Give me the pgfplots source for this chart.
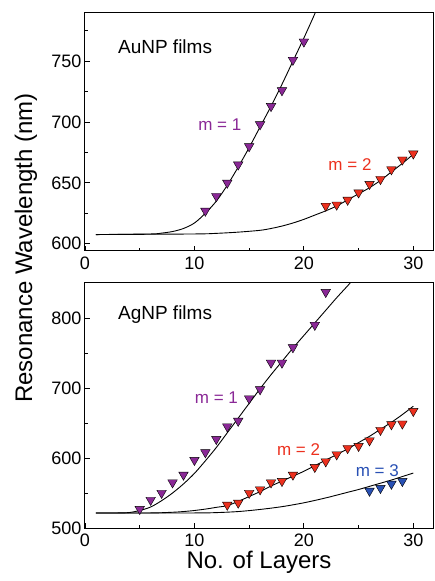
\documentclass[border=0pt]{standalone}
\usepackage{fontspec}
\setmainfont{Liberation Sans}
\usepackage{pgfplots}
\pgfplotsset{compat=1.18}

\definecolor{cpurple}{RGB}{138,40,150}
\definecolor{cred}{RGB}{236,48,30}
\definecolor{cblue}{RGB}{40,80,180}

\pgfplotsset{
  panel/.style={
    scale only axis, width=348pt,
    xmin=0, xmax=31.8,
    xtick={0,10,20,30}, minor xtick={5,15,25},
    xtick pos=left, ytick pos=left, tick align=inside,
    major tick length=5pt, minor tick length=3pt,
    tick style={black, line width=0.8pt},
    axis line style={line width=1pt},
    ticklabel style={font=\fontsize{18}{20}\selectfont},
    /pgf/number format/assume math mode=true,
    xticklabel style={yshift=-2pt},
  },
  fit/.style={black, line width=0.9pt, no marks, smooth},
  pts/.style={only marks, mark=triangle*, mark size=5.5pt,
    mark options={rotate=180, draw=none, fill=#1}},
}

\begin{document}
\begin{tikzpicture}
% bottom panel: AgNP
\begin{axis}[panel, at={(0,0)}, anchor=south west, height=245pt,
  ymin=500, ymax=850, ytick={500,600,700,800}, minor ytick={550,650,750},
  xlabel={No. of Layers}, xlabel style={font=\fontsize{24}{26}\selectfont, yshift=2pt}]
\addplot[fit] coordinates {(1,521.5) (3,521.5) (4,522) (5,525) (6,530) (7,539) (8,550) (9,563) (10,578) (11,596) (12,615) (13,636) (14,657) (15,678) (16,699) (17,719) (18,738) (19,757) (20,775) (21,793) (22,811) (23,829) (24,846) (24.5,855)};
\addplot[fit] coordinates {(1,521.5) (6,521.5) (8,522.5) (9,523.5) (10,525) (11,527) (12,529.5) (13,532) (14,538) (15,545) (16,552) (17,560) (18,567) (19,574) (20,581) (21,589) (22,597) (23,605) (24,613) (25,622) (26,631) (27,641) (28,651) (29,662) (30,674)};
\addplot[fit] coordinates {(1,521.5) (10,521.5) (12,522) (14,523.5) (16,526.5) (18,530.5) (20,536) (22,543) (24,551) (25,555) (26,559.5) (27,564) (28,568.5) (29,573.5) (30,578.5)};
\addplot[pts=cpurple] coordinates {(5,527) (6,540) (7,550) (8,565) (9,576) (10,597) (11,608) (12,627) (13,645) (14,653) (15,685) (16,698) (17,736) (18,736) (19,758) (21,790) (22,837)};
\addplot[pts=cred] coordinates {(13,533) (14,536) (15,550) (16,555) (17,565) (18,567) (19,576) (21,587) (22,595) (23,605) (24,614) (25,617) (26,625) (27,640) (28,648) (29,649) (30,667)};
\addplot[pts=cblue] coordinates {(26,553) (27,557) (28,563) (29,567)};
\node[anchor=west, font=\fontsize{19}{21}\selectfont] at (axis cs:2.7,805) {AgNP films};
\node[anchor=east, text=cpurple, font=\fontsize{17}{19}\selectfont] at (axis cs:14.3,686) {m = 1};
\node[anchor=east, text=cred, font=\fontsize{17}{19}\selectfont] at (axis cs:21.8,612) {m = 2};
\node[anchor=east, text=cblue, font=\fontsize{17}{19}\selectfont] at (axis cs:29.0,582) {m = 3};
\end{axis}
% top panel: AuNP
\begin{axis}[panel, at={(0,277pt)}, anchor=south west, height=238.5pt,
  ymin=594, ymax=790, ytick={600,650,700,750}, minor ytick={625,675,725,775}]
\addplot[fit] coordinates {(1,607.5) (6,608) (7,608.7) (8,610) (9,612.5) (10,617) (11,625) (12,635) (13,648) (14,663) (15,679) (16,696) (17,713) (18,731) (19,750) (20,769) (21,789) (21.3,796)};
\addplot[fit] coordinates {(1,607.5) (10,608) (12,608.5) (14,609.5) (16,611) (17,612.5) (18,614.5) (19,617) (20,620) (21,623.5) (22,627) (23,631) (24,636) (25,641) (26,646) (27,652) (28,659) (29,666) (30,673.5)};
\addplot[pts=cpurple] coordinates {(11,627) (12,639) (13,650) (14,665) (15,680) (16,698) (17,713) (18,726) (19,751) (20,766)};
\addplot[pts=cred] coordinates {(22,631) (23,632) (24,636) (25,642) (26,649) (27,653) (28,661) (29,669) (30,674)};
\node[anchor=west, font=\fontsize{19}{21}\selectfont] at (axis cs:2.7,762) {AuNP films};
\node[anchor=east, text=cpurple, font=\fontsize{17}{19}\selectfont] at (axis cs:14.6,698) {m = 1};
\node[anchor=east, text=cred, font=\fontsize{17}{19}\selectfont] at (axis cs:26.5,665) {m = 2};
\end{axis}
\node[rotate=90, font=\fontsize{24}{26}\selectfont] at (-59pt,280pt) {Resonance Wavelength (nm)};
\path (-85pt,-53pt) rectangle (350pt,528pt);
\end{tikzpicture}
\end{document}
